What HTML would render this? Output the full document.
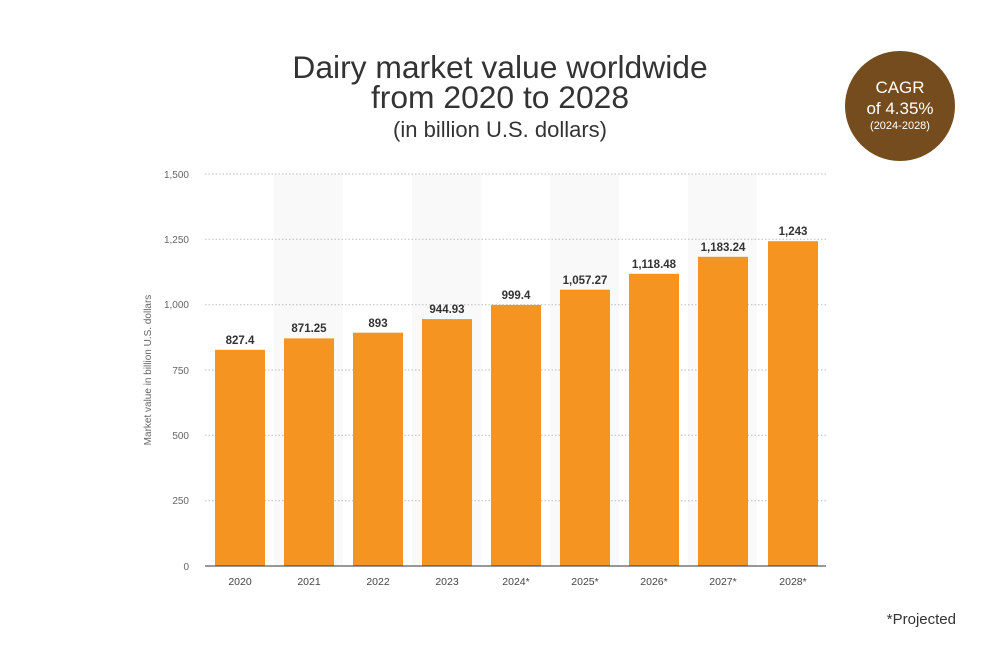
<!DOCTYPE html><html><head><style>body{margin:0;background:#fff}</style></head><body>
<svg width="1000" height="665" xmlns="http://www.w3.org/2000/svg" font-family="Liberation Sans, sans-serif">
<rect width="1000" height="665" fill="#fff"/>
<g fill="#333" text-anchor="middle">
<text x="500" y="78" font-size="31.8">Dairy market value worldwide</text>
<text x="500" y="108" font-size="31.8">from 2020 to 2028</text>
<text x="500" y="137" font-size="22">(in billion U.S. dollars)</text>
</g>
<circle cx="900" cy="106" r="55" fill="#754c1e"/>
<g fill="#fff" text-anchor="middle">
<text x="900" y="93" font-size="17">CAGR</text>
<text x="900" y="114" font-size="17">of 4.35%</text>
<text x="900" y="129" font-size="11">(2024-2028)</text>
</g>
<g fill="#f9f9f9">
<rect x="274" y="174" width="69" height="392"/>
<rect x="412" y="174" width="69" height="392"/>
<rect x="550" y="174" width="69" height="392"/>
<rect x="688" y="174" width="69" height="392"/>
</g>
<g stroke="#bbb" stroke-dasharray="1.5,2" stroke-width="1">
<line x1="205" x2="826" y1="174" y2="174"/><line x1="205" x2="826" y1="239.3" y2="239.3"/>
<line x1="205" x2="826" y1="304.7" y2="304.7"/><line x1="205" x2="826" y1="370" y2="370"/>
<line x1="205" x2="826" y1="435.3" y2="435.3"/><line x1="205" x2="826" y1="500.7" y2="500.7"/>
</g>
<g fill="#666" font-size="10" text-anchor="end">
<text x="189" y="178">1,500</text><text x="189" y="243">1,250</text><text x="189" y="308">1,000</text>
<text x="189" y="374">750</text><text x="189" y="439">500</text><text x="189" y="504">250</text><text x="189" y="570">0</text>
</g>
<text transform="translate(151,370) rotate(-90)" fill="#666" font-size="10" text-anchor="middle">Market value in billion U.S. dollars</text>
<g fill="#f59420">
<rect x="215" y="349.8" width="50" height="216.2"/>
<rect x="284" y="338.4" width="50" height="227.6"/>
<rect x="353" y="332.7" width="50" height="233.3"/>
<rect x="422" y="319.1" width="50" height="246.9"/>
<rect x="491" y="304.9" width="50" height="261.1"/>
<rect x="560" y="289.7" width="50" height="276.3"/>
<rect x="629" y="273.8" width="50" height="292.2"/>
<rect x="698" y="256.8" width="50" height="309.2"/>
<rect x="768" y="241.2" width="50" height="324.8"/>
</g>
<line x1="205" x2="826" y1="566" y2="566" stroke="#333" stroke-width="1"/>
<g fill="#333" font-size="11.5" font-weight="bold" text-anchor="middle">
<text x="240" y="344">827.4</text><text x="309" y="332">871.25</text><text x="378" y="327">893</text>
<text x="447" y="313">944.93</text><text x="516" y="299">999.4</text><text x="585" y="284">1,057.27</text>
<text x="654" y="268">1,118.48</text><text x="723" y="251">1,183.24</text><text x="793" y="235">1,243</text>
</g>
<g fill="#444" font-size="10.5" text-anchor="middle">
<text x="240" y="585">2020</text><text x="309" y="585">2021</text><text x="378" y="585">2022</text>
<text x="447" y="585">2023</text><text x="516" y="585">2024*</text><text x="585" y="585">2025*</text>
<text x="654" y="585">2026*</text><text x="723" y="585">2027*</text><text x="793" y="585">2028*</text>
</g>
<text x="956" y="624" fill="#333" font-size="15" text-anchor="end">*Projected</text>
</svg></body></html>
